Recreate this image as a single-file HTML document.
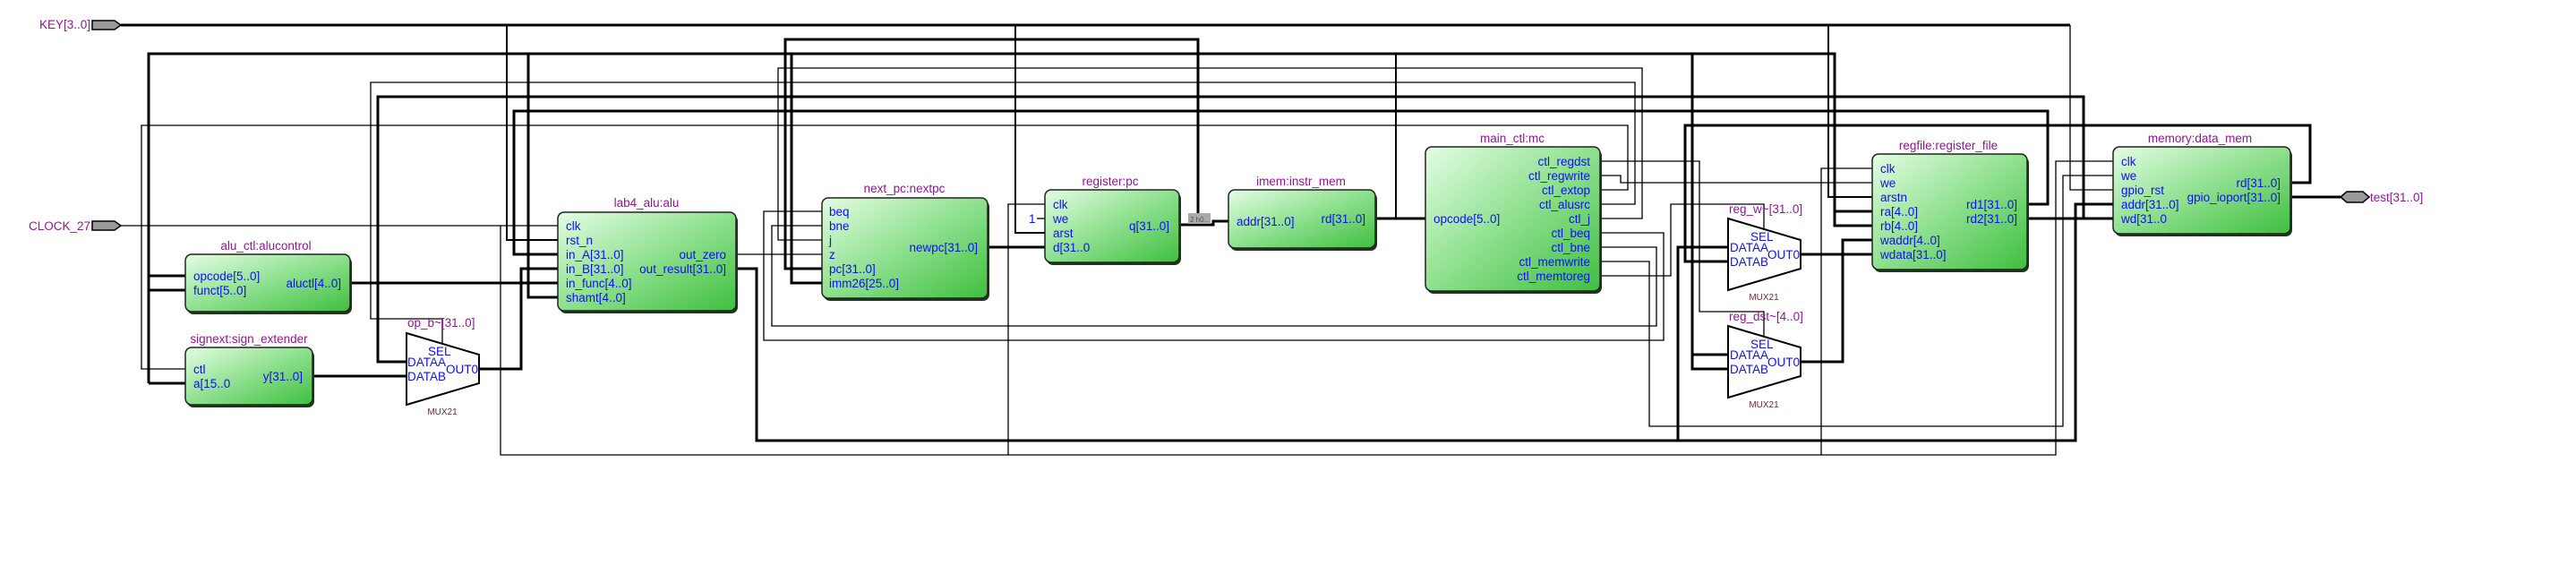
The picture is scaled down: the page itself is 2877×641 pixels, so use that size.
<!DOCTYPE html>
<html><head><meta charset="utf-8"><style>
html,body{margin:0;padding:0;background:#fff;}
svg{display:block;}
.w{fill:none;stroke:#000;stroke-linejoin:miter;}
.t3{stroke-width:3;}
.t2{stroke-width:2;}
.t1{stroke-width:1.3;}
.p{font-family:"Liberation Sans",sans-serif;font-size:13.5px;fill:#1010ee;}
.l{font-family:"Liberation Sans",sans-serif;font-size:13.5px;fill:#8b1a8b;}
.m{font-family:"Liberation Sans",sans-serif;font-size:10px;fill:#6b2b2b;}
.r{text-anchor:end;}
.box{fill:url(#g);stroke:#222;stroke-width:1.5;}
.sh{fill:#1a3a1a;}
</style></head><body>
<svg width="2877" height="641" viewBox="0 0 2877 641" xmlns="http://www.w3.org/2000/svg">
<defs>
<linearGradient id="g" x1="0" y1="0" x2="1" y2="1">
<stop offset="0" stop-color="#e4fde4"/>
<stop offset="0.5" stop-color="#8ee08e"/>
<stop offset="1" stop-color="#3fbf3f"/>
</linearGradient>
</defs>

<!-- thick wires -->
<path class="w t3" d="M135 28H2312"/>
<path class="w t3" d="M166 428V60H2049V252H2091M166 308H207M166 324H207M166 428H207M2049 236H2091"/>
<path class="w t3" d="M590 60V332H623M884 60V316H918"/>
<path class="w t2" d="M1559 60V244"/>
<path class="w t3" d="M1890 60V412H1930M1890 396H1930"/>
<path class="w t3" d="M918 300H877V44H1338V251"/>
<path class="w t3" d="M1314 251H1355V247H1372"/>
<path class="w t3" d="M454 404H422V108H2327V244M2264 244H2360"/>
<path class="w t3" d="M623 284H574V124H2287V228H2264"/>
<path class="w t3" d="M1930 292H1882V140H2580V204H2558"/>
<path class="w t3" d="M822 300H845V492H2318V228H2360M1874 492V276H1930"/>
<path class="w t3" d="M392 316H623M349 420H454M535 412H582V300H623M1103 276H1167M1536 244H1592M2011 284H2091M2011 404H2058V268H2091M2558 220H2614"/>
<!-- medium -->
<path class="w t2" d="M566 28V268H623M1134 28V260H1167M2042 28V220H2091"/>
<path class="w t1" d="M2312 28V212H2360"/>
<!-- thin -->
<path class="w t1" d="M135 252H623M559 252V508H2296V180H2360M1126 508V228H1167M2034 508V188H2091"/>
<path class="w t1" d="M494 384V356H414V92H1826V228H1787"/>
<path class="w t1" d="M207 412H158V140H1818V212H1787"/>
<path class="w t1" d="M918 268H869V76H1834V244H1787"/>
<path class="w t1" d="M822 284H918"/>
<path class="w t1" d="M918 236H853V380H1858V260H1787"/>
<path class="w t1" d="M918 252H862V364H1850V276H1787"/>
<path class="w t1" d="M1787 180H1898V348H1970V376"/>
<path class="w t1" d="M1787 196H1810V204H2091"/>
<path class="w t1" d="M1787 292H1842V476H2304V196H2360"/>
<path class="w t1" d="M1787 308H1866V228H1970V256"/>
<path class="w t1" d="M1158 244H1167"/>
<text class="p" x="1149" y="249">1</text>

<!-- gray const box -->
<rect x="1327" y="238" width="25" height="12" fill="#aaa"/>
<text x="1329" y="248" style="font-family:'Liberation Sans',sans-serif;font-size:8px;fill:#555">2 h0...</text>

<!-- pins -->
<polygon points="103,23 128,23 135,28 128,33 103,33" fill="#999" stroke="#000" stroke-width="1.5"/>
<text class="l r" x="101" y="32">KEY[3..0]</text>
<polygon points="103,247 128,247 135,252 128,257 103,257" fill="#999" stroke="#000" stroke-width="1.5"/>
<text class="l r" x="101" y="257">CLOCK_27</text>
<polygon points="2614,220 2621,214 2639,214 2646,220 2639,226 2621,226" fill="#999" stroke="#000" stroke-width="1.5"/>
<text class="l" x="2647" y="225">test[31..0]</text>

<!-- alu_ctl -->
<rect x="209" y="287" width="184" height="64" rx="7" class="sh"/>
<rect x="207" y="284" width="184" height="64" rx="7" class="box"/>
<text class="l" x="297" y="279" text-anchor="middle">alu_ctl:alucontrol</text>
<text class="p" x="216" y="313">opcode[5..0]</text>
<text class="p" x="216" y="329">funct[5..0]</text>
<text class="p r" x="381" y="321">aluctl[4..0]</text>

<!-- signext -->
<rect x="209" y="391" width="142" height="64" rx="7" class="sh"/>
<rect x="207" y="388" width="142" height="64" rx="7" class="box"/>
<text class="l" x="278" y="383" text-anchor="middle">signext:sign_extender</text>
<text class="p" x="216" y="417">ctl</text>
<text class="p" x="216" y="433">a[15..0</text>
<text class="p r" x="338" y="425">y[31..0]</text>

<!-- op_b mux -->
<polygon points="454,372 535,396 535,428 454,452" fill="#fff" stroke="#000" stroke-width="2"/>
<text class="l" x="455" y="365">op_b~[31..0]</text>
<text class="p" x="478" y="397">SEL</text>
<text class="p" x="455" y="409">DATAA</text>
<text class="p" x="455" y="425">DATAB</text>
<text class="p r" x="534" y="417">OUT0</text>
<text class="m" x="494" y="463" text-anchor="middle">MUX21</text>

<!-- alu -->
<rect x="625" y="240" width="199" height="110" rx="7" class="sh"/>
<rect x="623" y="237" width="199" height="110" rx="7" class="box"/>
<text class="l" x="722" y="231" text-anchor="middle">lab4_alu:alu</text>
<text class="p" x="632" y="257">clk</text>
<text class="p" x="632" y="273">rst_n</text>
<text class="p" x="632" y="289">in_A[31..0]</text>
<text class="p" x="632" y="305">in_B[31..0]</text>
<text class="p" x="632" y="321">in_func[4..0]</text>
<text class="p" x="632" y="337">shamt[4..0]</text>
<text class="p r" x="811" y="289">out_zero</text>
<text class="p r" x="811" y="305">out_result[31..0]</text>

<!-- nextpc -->
<rect x="920" y="224" width="185" height="112" rx="7" class="sh"/>
<rect x="918" y="221" width="185" height="112" rx="7" class="box"/>
<text class="l" x="1010" y="215" text-anchor="middle">next_pc:nextpc</text>
<text class="p" x="926" y="241">beq</text>
<text class="p" x="926" y="257">bne</text>
<text class="p" x="926" y="273">j</text>
<text class="p" x="926" y="289">z</text>
<text class="p" x="926" y="305">pc[31..0]</text>
<text class="p" x="926" y="321">imm26[25..0]</text>
<text class="p r" x="1092" y="281">newpc[31..0]</text>

<!-- pc -->
<rect x="1169" y="215" width="150" height="81" rx="7" class="sh"/>
<rect x="1167" y="212" width="150" height="81" rx="7" class="box"/>
<text class="l" x="1240" y="207" text-anchor="middle">register:pc</text>
<text class="p" x="1176" y="233">clk</text>
<text class="p" x="1176" y="249">we</text>
<text class="p" x="1176" y="265">arst</text>
<text class="p" x="1176" y="281">d[31..0</text>
<text class="p r" x="1306" y="257">q[31..0]</text>

<!-- imem -->
<rect x="1374" y="215" width="164" height="65" rx="7" class="sh"/>
<rect x="1372" y="212" width="164" height="65" rx="7" class="box"/>
<text class="l" x="1453" y="207" text-anchor="middle">imem:instr_mem</text>
<text class="p" x="1381" y="252">addr[31..0]</text>
<text class="p r" x="1525" y="249">rd[31..0]</text>

<!-- main_ctl -->
<rect x="1594" y="167" width="195" height="161" rx="7" class="sh"/>
<rect x="1592" y="164" width="195" height="161" rx="7" class="box"/>
<text class="l" x="1689" y="159" text-anchor="middle">main_ctl:mc</text>
<text class="p" x="1601" y="249">opcode[5..0]</text>
<text class="p r" x="1776" y="185">ctl_regdst</text>
<text class="p r" x="1776" y="201">ctl_regwrite</text>
<text class="p r" x="1776" y="217">ctl_extop</text>
<text class="p r" x="1776" y="233">ctl_alusrc</text>
<text class="p r" x="1776" y="249">ctl_j</text>
<text class="p r" x="1776" y="265">ctl_beq</text>
<text class="p r" x="1776" y="281">ctl_bne</text>
<text class="p r" x="1776" y="297">ctl_memwrite</text>
<text class="p r" x="1776" y="313">ctl_memtoreg</text>

<!-- reg_w mux -->
<polygon points="1930,244 2011,268 2011,300 1930,324" fill="#fff" stroke="#000" stroke-width="2"/>
<text class="l" x="1931" y="238">reg_w~[31..0]</text>
<text class="p" x="1955" y="269">SEL</text>
<text class="p" x="1932" y="281">DATAA</text>
<text class="p" x="1932" y="297">DATAB</text>
<text class="p r" x="2010" y="289">OUT0</text>
<text class="m" x="1970" y="335" text-anchor="middle">MUX21</text>

<!-- reg_dst mux -->
<polygon points="1930,364 2011,388 2011,420 1930,444" fill="#fff" stroke="#000" stroke-width="2"/>
<text class="l" x="1931" y="358">reg_dst~[4..0]</text>
<text class="p" x="1955" y="389">SEL</text>
<text class="p" x="1932" y="401">DATAA</text>
<text class="p" x="1932" y="417">DATAB</text>
<text class="p r" x="2010" y="409">OUT0</text>
<text class="m" x="1970" y="455" text-anchor="middle">MUX21</text>

<!-- regfile -->
<rect x="2093" y="175" width="173" height="129" rx="7" class="sh"/>
<rect x="2091" y="172" width="173" height="129" rx="7" class="box"/>
<text class="l" x="2176" y="167" text-anchor="middle">regfile:register_file</text>
<text class="p" x="2100" y="193">clk</text>
<text class="p" x="2100" y="209">we</text>
<text class="p" x="2100" y="225">arstn</text>
<text class="p" x="2100" y="241">ra[4..0]</text>
<text class="p" x="2100" y="257">rb[4..0]</text>
<text class="p" x="2100" y="273">waddr[4..0]</text>
<text class="p" x="2100" y="289">wdata[31..0]</text>
<text class="p r" x="2253" y="233">rd1[31..0]</text>
<text class="p r" x="2253" y="249">rd2[31..0]</text>

<!-- data_mem -->
<rect x="2362" y="167" width="198" height="97" rx="7" class="sh"/>
<rect x="2360" y="164" width="198" height="97" rx="7" class="box"/>
<text class="l" x="2457" y="159" text-anchor="middle">memory:data_mem</text>
<text class="p" x="2369" y="185">clk</text>
<text class="p" x="2369" y="201">we</text>
<text class="p" x="2369" y="217">gpio_rst</text>
<text class="p" x="2369" y="233">addr[31..0]</text>
<text class="p" x="2369" y="249">wd[31..0</text>
<text class="p r" x="2547" y="209">rd[31..0]</text>
<text class="p r" x="2547" y="225">gpio_ioport[31..0]</text>
</svg>
</body></html>
